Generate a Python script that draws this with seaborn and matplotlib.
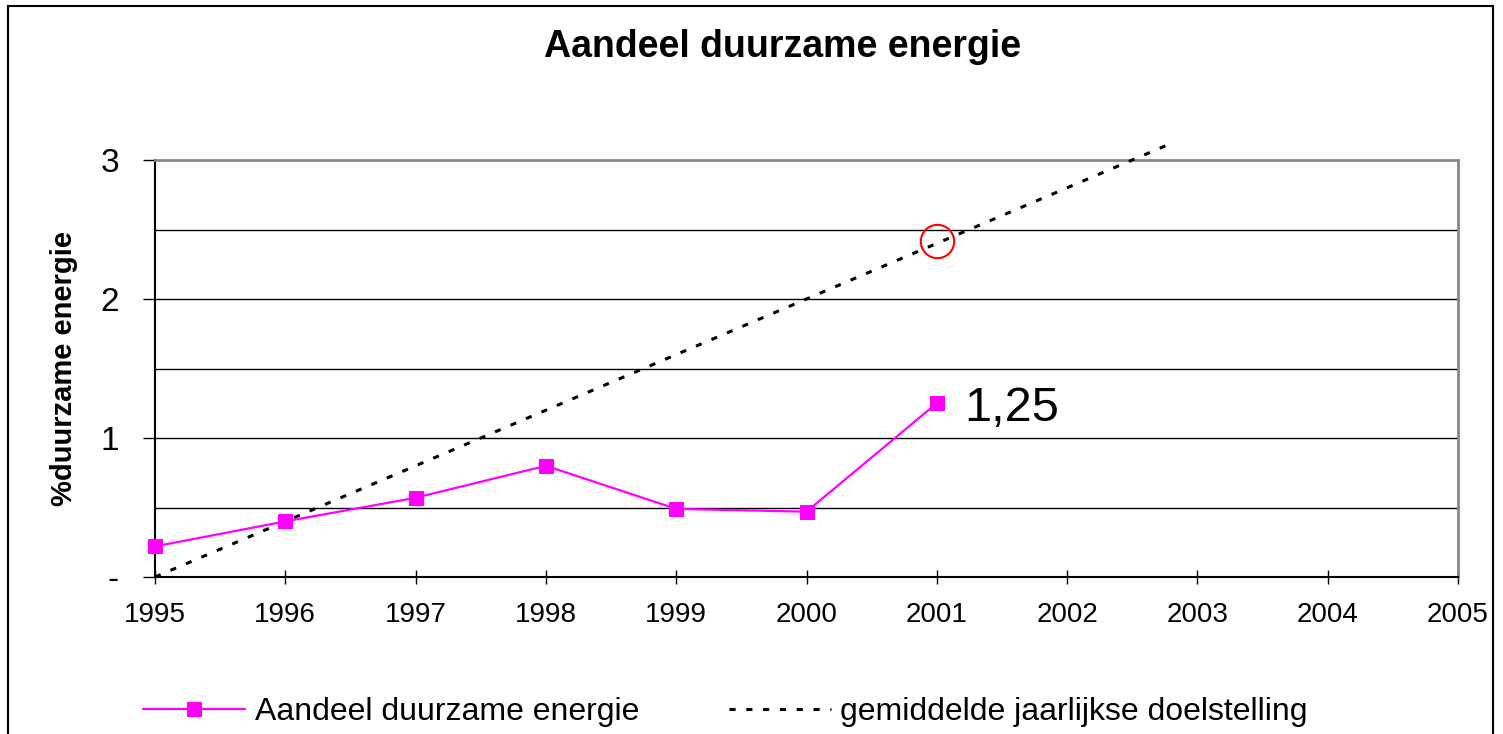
import matplotlib
matplotlib.use('Agg')
import matplotlib.pyplot as plt
import seaborn as sns
import pandas as pd
from matplotlib.patches import Rectangle

# Data
jaren = [1995, 1996, 1997, 1998, 1999, 2000, 2001]
aandeel = [0.22, 0.40, 0.57, 0.80, 0.49, 0.47, 1.25]

# average yearly target (dotted trend line, runs past the top of the plot)
doel_jaren = [1995, 2002.8]
doel_waarden = [0.0, 3.12]

# red circle marks the target in 2001
cirkel_jaar = 2001
cirkel_waarde = 2.42

x_ticks = list(range(1995, 2006))
y_ticks = [0, 1, 2, 3]
y_ticklabels = ['-', '1', '2', '3']

sns.set_theme(style='white')
plt.rcParams['font.family'] = ['Liberation Sans', 'DejaVu Sans']
plt.rcParams['text.color'] = 'black'
plt.rcParams['axes.labelcolor'] = 'black'
plt.rcParams['xtick.color'] = 'black'
plt.rcParams['ytick.color'] = 'black'

df = pd.DataFrame({'jaar': jaren, 'aandeel': aandeel})
df_doel = pd.DataFrame({'jaar': doel_jaren, 'doel': doel_waarden})

fig = plt.figure(figsize=(15.03, 7.34), dpi=100)
ax = fig.add_axes([155 / 1503, 1 - 577 / 734, (1458 - 155) / 1503, (577 - 160) / 734])

# gridlines every 0.5
for g in [0.5, 1, 1.5, 2, 2.5]:
    ax.axhline(g, color='black', lw=1, zorder=1)

sns.lineplot(data=df, x='jaar', y='aandeel', ax=ax, color='#FF00FF', lw=1.6,
             marker='s', markersize=10, markeredgecolor='#FF00FF',
             label='Aandeel duurzame energie', clip_on=False, zorder=4)
sns.lineplot(data=df_doel, x='jaar', y='doel', ax=ax, color='black', lw=2.2,
             linestyle=(0, (2, 3.5)), label='gemiddelde jaarlijkse doelstelling',
             clip_on=False, zorder=3)

ax.plot([cirkel_jaar], [cirkel_waarde], marker='o', markersize=24,
        markerfacecolor='none', markeredgecolor='red', mew=1.5, zorder=5)

ax.annotate('1,25', xy=(jaren[-1], aandeel[-1]), xytext=(20, -4),
            textcoords='offset points', fontsize=35, va='center', ha='left')

ax.set_xlim(1995, 2005)
ax.set_ylim(0, 3)
ax.set_xticks(x_ticks)
ax.set_xticklabels([str(j) for j in x_ticks])
ax.set_yticks(y_ticks)
ax.set_yticklabels(y_ticklabels)
ax.tick_params(axis='x', direction='inout', length=10, width=1, pad=13,
               labelsize=20, bottom=True)
ax.tick_params(axis='y', direction='out', length=9, width=1, pad=17,
               labelsize=24, left=True)

ax.set_xlabel('')
ax.set_ylabel('%duurzame energie', fontsize=21, fontweight='bold', labelpad=16)

for s in ['top', 'right']:
    ax.spines[s].set_color('#888888')
    ax.spines[s].set_linewidth(2)
for s in ['left', 'bottom']:
    ax.spines[s].set_color('black')
    ax.spines[s].set_linewidth(1.5)

fig.text(783 / 1503, 1 - 47 / 734, 'Aandeel duurzame energie', fontsize=27,
         fontweight='bold', ha='center', va='center')

ax.legend(loc='center left', bbox_to_anchor=(127 / 1503, 1 - 712 / 734),
          bbox_transform=fig.transFigure, ncol=2, frameon=False, fontsize=23,
          handlelength=3.2, handletextpad=0.3, columnspacing=2.8, borderpad=0)

# outer frame around the chart
fig.patches.append(Rectangle((8 / 1503, -0.1), (1493 - 8) / 1503, 1.1 - 6 / 734,
                             transform=fig.transFigure, fill=False,
                             edgecolor='black', lw=1.5))

fig.savefig('out.png', dpi=100)
